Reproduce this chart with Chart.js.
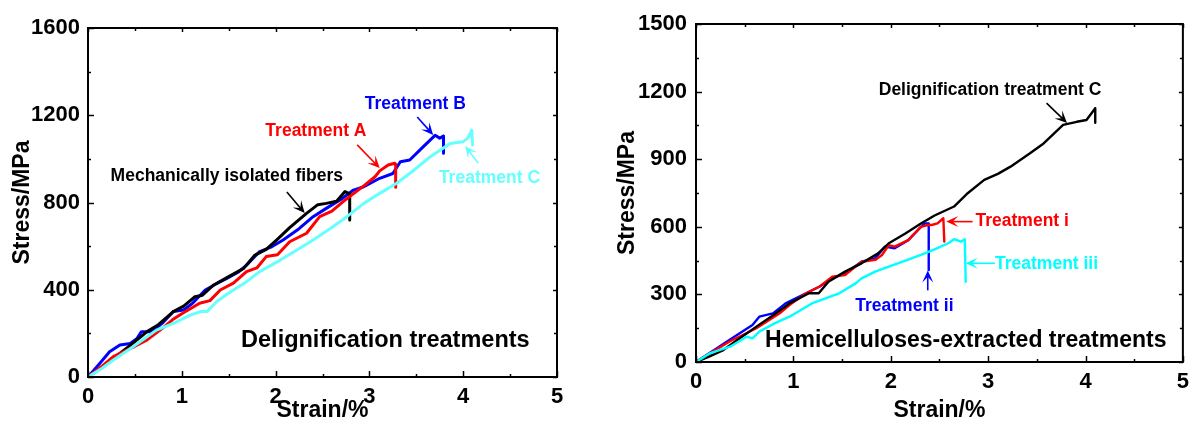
<!DOCTYPE html>
<html><head><meta charset="utf-8">
<script src="https://cdn.jsdelivr.net/npm/chart.js@4.4.1/dist/chart.umd.min.js"></script>
<style>
html,body{margin:0;padding:0;background:#fff;}
#wrap{position:relative;width:1196px;height:428px;overflow:hidden;background:#fff;}
canvas{position:absolute;top:0;}
</style></head><body>
<div id="wrap"><canvas id="c1" width="598" height="428" style="left:0"></canvas><canvas id="c2" width="598" height="428" style="left:598px"></canvas></div>
<script>
// ---------- tick labels ----------
const strainTicks = [0, 1, 2, 3, 4, 5];
const leftStressTicks = [0, 400, 800, 1200, 1600];
const rightStressTicks = [0, 300, 600, 900, 1200, 1500];

// ---------- left panel: Delignification treatments ----------
const mechStrain = [0, 0.15, 0.3, 0.45, 0.63, 0.75, 0.91, 1.02, 1.14, 1.22, 1.34, 1.5, 1.66, 1.78, 1.9, 2.01, 2.15, 2.33, 2.45, 2.54, 2.65, 2.74, 2.79, 2.79];
const mechStress = [0, 45, 95, 145, 208, 240, 300, 325, 368, 375, 422, 460, 498, 559, 585, 628, 685, 750, 790, 796, 806, 850, 840, 720];

const treatAStrain = [0, 0.15, 0.27, 0.45, 0.63, 0.8, 0.9, 1.0, 1.19, 1.3, 1.41, 1.55, 1.69, 1.8, 1.9, 2.02, 2.15, 2.33, 2.47, 2.6, 2.72, 2.81, 2.94, 3.06, 3.11, 3.2, 3.27, 3.28, 3.28];
const treatAStress = [0, 50, 93, 130, 170, 225, 262, 290, 338, 350, 399, 430, 483, 500, 552, 560, 620, 659, 735, 760, 804, 834, 876, 918, 945, 972, 980, 975, 870];

const treatBStrain = [0, 0.12, 0.23, 0.34, 0.45, 0.52, 0.57, 0.68, 0.8, 0.91, 1.02, 1.12, 1.25, 1.36, 1.48, 1.6, 1.69, 1.83, 1.95, 2.08, 2.25, 2.4, 2.54, 2.7, 2.83, 2.94, 3.11, 3.25, 3.33, 3.43, 3.54, 3.65, 3.7, 3.75, 3.79, 3.79];
const treatBStress = [0, 60, 116, 147, 154, 175, 208, 208, 250, 300, 307, 340, 399, 425, 452, 480, 513, 575, 595, 628, 680, 735, 773, 815, 857, 872, 911, 933, 987, 995, 1041, 1087, 1108, 1095, 1105, 1026];

const treatCStrain = [0, 0.15, 0.27, 0.45, 0.6, 0.73, 0.91, 1.09, 1.2, 1.27, 1.37, 1.5, 1.69, 1.83, 2.05, 2.2, 2.4, 2.58, 2.76, 2.94, 3.11, 3.29, 3.45, 3.65, 3.86, 4.0, 4.05, 4.09, 4.1];
const treatCStress = [0, 40, 78, 130, 175, 215, 246, 284, 300, 300, 345, 385, 437, 483, 536, 575, 628, 680, 735, 796, 842, 888, 940, 1010, 1071, 1079, 1095, 1132, 1064];

// ---------- right panel: Hemicelluloses-extracted treatments ----------
const delCStrain = [0, 0.14, 0.28, 0.45, 0.62, 0.8, 0.96, 1.16, 1.26, 1.36, 1.53, 1.7, 1.87, 1.98, 2.15, 2.31, 2.45, 2.55, 2.65, 2.79, 2.96, 3.1, 3.23, 3.43, 3.57, 3.77, 3.91, 4.01, 4.1, 4.1];
const delCStress = [0, 25, 53, 105, 157, 210, 260, 305, 305, 356, 401, 438, 482, 527, 570, 615, 650, 670, 690, 749, 808, 835, 867, 926, 970, 1052, 1066, 1074, 1126, 1062];

const treatIStrain = [0, 0.14, 0.35, 0.62, 0.86, 0.96, 1.13, 1.27, 1.4, 1.53, 1.7, 1.84, 1.91, 1.98, 2.04, 2.18, 2.31, 2.38, 2.42, 2.48, 2.54, 2.55];
const treatIStress = [0, 38, 92, 150, 216, 253, 305, 335, 379, 386, 445, 453, 475, 519, 512, 541, 600, 608, 608, 615, 638, 534];

const treatIIStrain = [0, 0.14, 0.35, 0.58, 0.65, 0.79, 0.92, 1.13, 1.27, 1.4, 1.53, 1.7, 1.84, 1.94, 2.04, 2.18, 2.3, 2.35, 2.39, 2.39];
const treatIIStress = [0, 40, 100, 164, 201, 216, 260, 305, 335, 371, 393, 445, 460, 512, 505, 541, 595, 615, 615, 408];

const treatIIIStrain = [0, 0.14, 0.35, 0.52, 0.58, 0.65, 0.8, 0.96, 1.19, 1.47, 1.64, 1.7, 1.84, 1.98, 2.15, 2.31, 2.45, 2.59, 2.65, 2.72, 2.76, 2.77];
const treatIIIStress = [0, 38, 68, 112, 105, 135, 170, 201, 260, 305, 349, 371, 401, 423, 450, 475, 500, 527, 545, 534, 545, 356];

// ---------- annotations (data coordinates) ----------
const leftNotes = [
  {text: 'Treatment B', color: '#0000ff', x: 3.49, y: 1252, size: 17.5},
  {text: 'Treatment A', color: '#ff0000', x: 2.43, y: 1128, size: 17.5},
  {text: 'Mechanically isolated fibers', color: '#000000', x: 1.48, y: 922, size: 17.5},
  {text: 'Treatment C', color: '#66ffff', x: 4.28, y: 912, size: 17.5},
  {text: 'Delignification treatments', color: '#000000', x: 3.17, y: 165, size: 23.5}
];
const leftArrows = [
  {from: [3.51, 1192], to: [3.68, 1110], color: '#0000ff'},
  {from: [2.87, 1064], to: [3.11, 958], color: '#ff0000'},
  {from: [2.12, 848], to: [2.31, 752], color: '#000000'},
  {from: [4.16, 981], to: [4.02, 1059], color: '#66ffff'}
];
const rightNotes = [
  {text: 'Delignification treatment C', color: '#000000', x: 3.02, y: 1207, size: 17.5},
  {text: 'Treatment i', color: '#ff0000', x: 3.35, y: 626, size: 17.5},
  {text: 'Treatment iii', color: '#00ffff', x: 3.60, y: 435, size: 17.5},
  {text: 'Treatment ii', color: '#0000ff', x: 2.14, y: 249, size: 17.5},
  {text: 'Hemicelluloses-extracted treatments', color: '#000000', x: 2.77, y: 93, size: 23}
];
const rightArrows = [
  {from: [3.60, 1149], to: [3.81, 1061], color: '#000000'},
  {from: [2.84, 623], to: [2.57, 623], color: '#ff0000'},
  {from: [3.07, 438], to: [2.77, 438], color: '#00ffff'},
  {from: [2.38, 318], to: [2.38, 406], color: '#0000ff'}
];

const FONT = "'Liberation Sans', Arial, Helvetica, sans-serif";

function drawArrow(ctx, x1, y1, x2, y2, color) {
  const ang = Math.atan2(y2 - y1, x2 - x1);
  const L = 12, W = 5.5;
  const c = Math.cos(ang), s = Math.sin(ang);
  ctx.strokeStyle = color; ctx.fillStyle = color; ctx.lineWidth = 1.6;
  ctx.beginPath(); ctx.moveTo(x1, y1); ctx.lineTo(x2 - c * 5, y2 - s * 5); ctx.stroke();
  ctx.beginPath();
  ctx.moveTo(x2, y2);
  ctx.lineTo(x2 - L * c + W * s, y2 - L * s - W * c);
  ctx.lineTo(x2 - 0.55 * L * c, y2 - 0.55 * L * s);
  ctx.lineTo(x2 - L * c - W * s, y2 - L * s + W * c);
  ctx.closePath(); ctx.fill();
}

const framePlugin = {
  id: 'frame',
  afterDraw(chart, args, opts) {
    const {ctx, chartArea: a} = chart;
    const xs = chart.scales.x, ys = chart.scales.y;
    ctx.save();
    ctx.strokeStyle = '#000';
    ctx.lineWidth = 1.5;
    const xMaj = strainTicks;
    for (let v = 0; v <= 5.0001; v += 0.5) {
      const p = Math.round(xs.getPixelForValue(v)) + 0.5;
      const major = xMaj.some(m => Math.abs(m - v) < 1e-6);
      const lb = major ? 6 : 3, lt = major ? 4 : 3;
      ctx.beginPath(); ctx.moveTo(p, a.bottom); ctx.lineTo(p, a.bottom - lb); ctx.stroke();
      ctx.beginPath(); ctx.moveTo(p, a.top); ctx.lineTo(p, a.top + lt); ctx.stroke();
    }
    const yMaj = opts.yTicks;
    const step = (yMaj[1] - yMaj[0]) / 2;
    for (let v = 0; v <= yMaj[yMaj.length - 1] + 1e-6; v += step) {
      const p = Math.round(ys.getPixelForValue(v)) + 0.5;
      const major = yMaj.some(m => Math.abs(m - v) < 1e-6);
      const ll = major ? 6 : 3, lr = major ? 4 : 3;
      ctx.beginPath(); ctx.moveTo(a.left, p); ctx.lineTo(a.left + ll, p); ctx.stroke();
      ctx.beginPath(); ctx.moveTo(a.right, p); ctx.lineTo(a.right - lr, p); ctx.stroke();
    }
    ctx.lineWidth = 2;
    ctx.strokeRect(a.left, a.top, a.right - a.left, a.bottom - a.top);
    ctx.restore();
  }
};

const notesPlugin = {
  id: 'notes',
  afterDatasetsDraw(chart, args, opts) {
    const {ctx} = chart;
    const xs = chart.scales.x, ys = chart.scales.y;
    ctx.save();
    for (const n of opts.arrows) {
      drawArrow(ctx, xs.getPixelForValue(n.from[0]), ys.getPixelForValue(n.from[1]),
        xs.getPixelForValue(n.to[0]), ys.getPixelForValue(n.to[1]), n.color);
    }
    ctx.textAlign = 'center';
    ctx.textBaseline = 'middle';
    for (const n of opts.notes) {
      ctx.font = 'bold ' + n.size + 'px ' + FONT;
      ctx.fillStyle = n.color;
      ctx.fillText(n.text, xs.getPixelForValue(n.x), ys.getPixelForValue(n.y));
    }
    ctx.restore();
  }
};

function series(strain, stress, color) {
  return {strain, stress, color};
}

function makeChart(id, cfg) {
  return new Chart(document.getElementById(id), {
    type: 'line',
    data: {
      datasets: cfg.series.map(s => ({
        data: s.strain.map((v, i) => ({x: v, y: s.stress[i]})),
        borderColor: s.color, borderWidth: cfg.lw, pointRadius: 0,
        fill: false, tension: 0, borderJoinStyle: 'round', borderCapStyle: 'round'
      }))
    },
    options: {
      responsive: false, animation: false, devicePixelRatio: 1,
      layout: {padding: {top: cfg.top, right: cfg.right, left: 0, bottom: 0}},
      plugins: {
        legend: {display: false}, tooltip: {enabled: false},
        frame: {yTicks: cfg.yTicks},
        notes: {notes: cfg.notes, arrows: cfg.arrows}
      },
      scales: {
        x: {
          type: 'linear', min: 0, max: 5,
          afterBuildTicks: s => { s.ticks = strainTicks.map(v => ({value: v})); },
          afterFit: s => { s.height = cfg.xh; },
          grid: {display: false, drawTicks: false}, border: {display: false},
          ticks: {padding: 7, color: '#000', font: {family: FONT, size: 22, weight: 'bold'}, callback: v => String(v)},
          title: {display: true, text: 'Strain/%', color: '#000', font: {family: FONT, size: 23, weight: 'bold'}, padding: {top: 0, bottom: 4}}
        },
        y: {
          type: 'linear', min: 0, max: cfg.yTicks[cfg.yTicks.length - 1],
          afterBuildTicks: s => { s.ticks = cfg.yTicks.map(v => ({value: v})); },
          afterFit: s => { s.width = cfg.yw; },
          grid: {display: false, drawTicks: false}, border: {display: false},
          ticks: {padding: cfg.ypad, color: '#000', font: {family: FONT, size: 22, weight: 'bold'}, callback: v => String(v)},
          title: {display: true, text: 'Stress/MPa', color: '#000', font: {family: FONT, size: 23, weight: 'bold'}, padding: {top: cfg.ytp, bottom: 0}}
        }
      }
    },
    plugins: [framePlugin, notesPlugin]
  });
}

makeChart('c1', {
  series: [
    series(treatCStrain, treatCStress, '#66ffff'),
    series(treatAStrain, treatAStress, '#ff0000'),
    series(mechStrain, mechStress, '#000000'),
    series(treatBStrain, treatBStress, '#0000ff')
  ],
  lw: 3, top: 28, right: 41, xh: 51, yw: 88, ypad: 8, ytp: 9,
  yTicks: leftStressTicks, notes: leftNotes, arrows: leftArrows
});

makeChart('c2', {
  series: [
    series(treatIIIStrain, treatIIIStress, '#00ffff'),
    series(delCStrain, delCStress, '#000000'),
    series(treatIStrain, treatIStress, '#ff0000'),
    series(treatIIStrain, treatIIStress, '#0000ff')
  ],
  lw: 2.4, top: 24, right: 9, xh: 66, yw: 98, ypad: 9, ytp: 16,
  yTicks: rightStressTicks, notes: rightNotes, arrows: rightArrows
});
</script>
</body></html>
